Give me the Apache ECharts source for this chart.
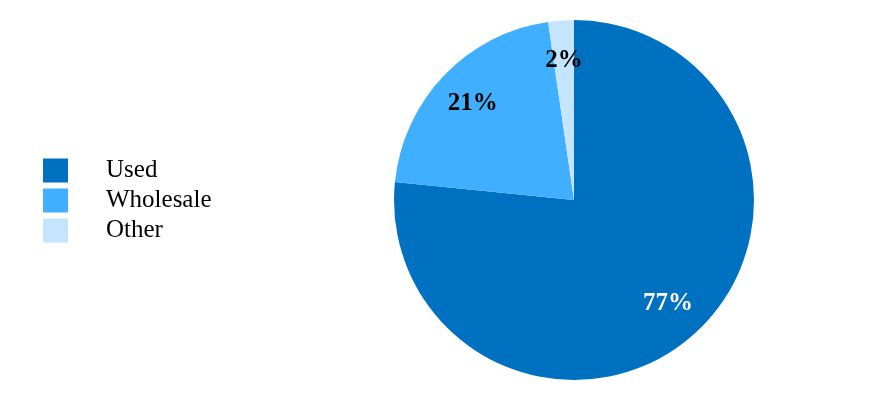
<!DOCTYPE html>
<html>
<head>
<meta charset="utf-8">
<script src="https://cdn.jsdelivr.net/npm/echarts@6/dist/echarts.min.js"></script>
<style>html,body{margin:0;padding:0;background:#fff;}#c{width:892px;height:400px;}</style>
</head>
<body>
<div id="c"></div>
<script>
const categories = ['Used', 'Wholesale', 'Other'];
const values = [76.6, 21.1, 2.3];
const colors = ['#0070C0', '#41AFFF', '#C5E5FF'];
const labelColors = ['#ffffff', '#000000', '#000000'];

const chart = echarts.init(document.getElementById('c'), null, {renderer: 'canvas'});
const fontFam = '"Liberation Serif", "Times New Roman", serif';
const data = categories.map((n, i) => ({name: n, value: values[i], itemStyle: {color: colors[i]}}));
const labelData = categories.map((n, i) => ({
  name: n, value: values[i],
  label: {color: labelColors[i]}
}));
chart.setOption({
  animation: false,
  legend: {
    orient: 'vertical', left: 38, top: 153,
    itemWidth: 25, itemHeight: 24, itemGap: 5,
    icon: 'rect',
    data: categories,
    selectedMode: false,
    textStyle: {fontFamily: fontFam, fontSize: 25, color: '#000', padding: [0, 0, 0, 33], lineHeight: 24}
  },
  series: [
    {
      type: 'pie', center: [574, 200], radius: [0, 180], startAngle: 90, clockwise: true,
      silent: true, label: {show: false}, labelLine: {show: false},
      itemStyle: {borderWidth: 0},
      data: data
    },
    {
      type: 'pie', center: [574, 200], radius: [94, 180], startAngle: 90, clockwise: true,
      silent: true, legendHoverLink: false,
      itemStyle: {color: 'rgba(0,0,0,0)', borderWidth: 0},
      label: {show: true, position: 'inside', fontFamily: fontFam, fontWeight: 'bold', fontSize: 25,
        formatter: p => Math.round(p.value) + '%'},
      labelLine: {show: false},
      data: labelData
    }
  ]
});
</script>
</body>
</html>
